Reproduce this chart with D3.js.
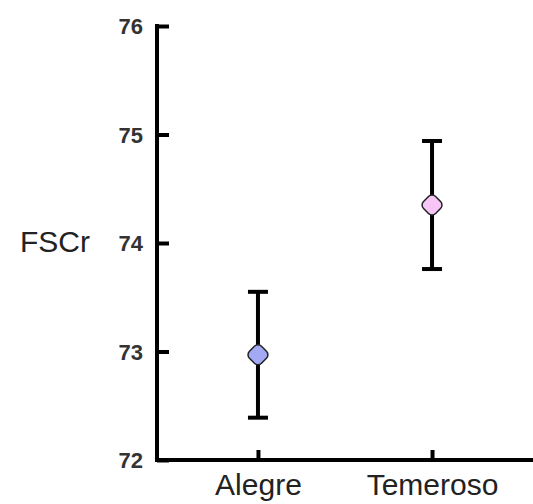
<!DOCTYPE html>
<html>
<head>
<meta charset="utf-8">
<script src="https://cdn.jsdelivr.net/npm/d3@7"></script>
<style>
  body { margin: 0; background: #fff; }
  text { font-family: "Liberation Sans", Arial, sans-serif; fill: #222; }
</style>
</head>
<body>
<div class="panel"></div>
<script>
const width = 533;
const height = 504;
const margins = {top: 26, right: 0, bottom: 44, left: 157};

// data
const groups = ["Alegre", "Temeroso"];
const means = [72.97, 74.35];
const errors = [0.58, 0.59];
const fills = ["#a3a9f5", "#f8c6f6"];
const yTicks = [72, 73, 74, 75, 76];

const svg = d3.select(".panel")
  .append("svg")
  .attr("width", width)
  .attr("height", height);

const y = d3.scaleLinear()
  .domain([72, 76])
  .range([height - margins.bottom, margins.top]);

const x = d3.scalePoint()
  .domain(groups)
  .range([margins.left, width - margins.right])
  .padding(0.58);

// y axis, ticks pointing inward
const yAxis = d3.axisRight(y).tickValues(yTicks).tickSize(12).tickFormat(d3.format("d"));
const gy = svg.append("g")
  .attr("transform", `translate(${margins.left},0)`)
  .call(yAxis);
gy.select(".domain").attr("stroke", "#000").attr("stroke-width", 4).attr("d", `M0,${y(76) - 2}V${y(72) + 2}`);
gy.selectAll(".tick line").attr("stroke", "#000").attr("stroke-width", 4).attr("x1", 0);
gy.selectAll(".tick text")
  .attr("x", -14)
  .attr("dy", "0.35em")
  .attr("text-anchor", "end")
  .attr("font-size", 22)
  .attr("font-weight", "bold")
  .style("fill", "#333");

// x axis, ticks pointing up
const xAxis = d3.axisTop(x).tickSize(10).tickSizeOuter(0);
const gx = svg.append("g")
  .attr("transform", `translate(0,${y(72)})`)
  .call(xAxis);
gx.select(".domain").attr("stroke", "#000").attr("stroke-width", 4).attr("d", `M${margins.left - 2},0H${width}`);
gx.selectAll(".tick line").attr("stroke", "#000").attr("stroke-width", 4);
gx.selectAll(".tick text")
  .attr("y", 35)
  .attr("dy", 0)
  .attr("font-size", 30)
  .style("fill", "#222");

svg.append("text")
  .attr("x", 20)
  .attr("y", y(74) + 9)
  .attr("font-size", 30)
  .text("FSCr");

// error bars
const bars = svg.append("g")
  .selectAll("g")
  .data(groups)
  .enter()
  .append("g");

bars.append("line")
  .attr("x1", d => x(d))
  .attr("x2", d => x(d))
  .attr("y1", (d, i) => y(means[i] + errors[i]))
  .attr("y2", (d, i) => y(means[i] - errors[i]))
  .attr("stroke", "#000")
  .attr("stroke-width", 4);

[1, -1].forEach(s => {
  bars.append("line")
    .attr("x1", d => x(d) - 10)
    .attr("x2", d => x(d) + 10)
    .attr("y1", (d, i) => y(means[i] + s * errors[i]))
    .attr("y2", (d, i) => y(means[i] + s * errors[i]))
    .attr("stroke", "#000")
    .attr("stroke-width", 4);
});

// rounded diamond markers
bars.append("rect")
  .attr("x", -8.5)
  .attr("y", -8.5)
  .attr("width", 17)
  .attr("height", 17)
  .attr("rx", 5)
  .attr("transform", (d, i) => `translate(${x(d)},${y(means[i])}) rotate(45)`)
  .attr("fill", (d, i) => fills[i])
  .attr("stroke", "#222")
  .attr("stroke-width", 1.5);
</script>
</body>
</html>
